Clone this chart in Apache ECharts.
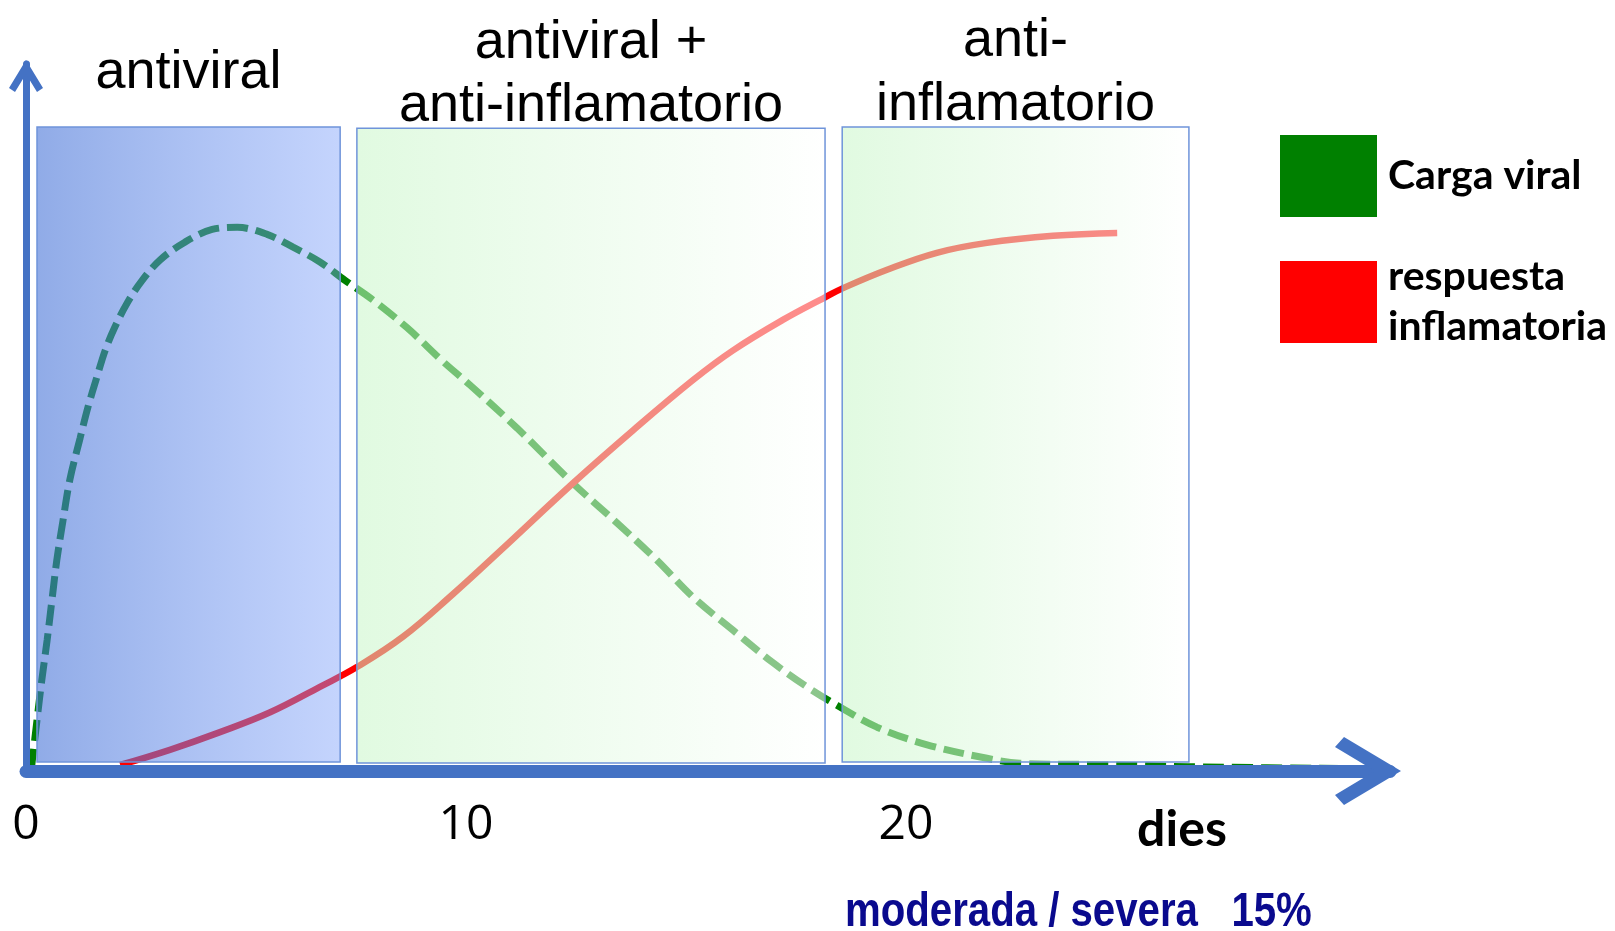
<!DOCTYPE html>
<html><head><meta charset="utf-8">
<script src="https://cdn.jsdelivr.net/npm/echarts@6/dist/echarts.min.js"></script>
<style>html,body{margin:0;padding:0;background:#fff}#c{width:1615px;height:931px}</style>
</head><body><div id="c"></div>
<script>
// ---- data (days on x, relative level 0-100 on y) ----
const seriesNames = ['Carga viral', 'respuesta inflamatoria'];
const greenX = [0.12,0.25,0.36,0.48,0.59,0.70,0.84,1.0,1.23,1.41,1.61,1.80,2.02,2.30,2.64,3.05,3.61,4.23,4.80,5.48,6.07,6.68,7.25,7.89,8.66,9.48,10.09,11.16,12.43,13.43,14.34,15.16,16.07,16.98,17.75,18.43,19.34,20.48,21.84,22.59,24.4,26.4,31];
const greenY = [0.2,7.2,12.9,18.5,24.2,29.8,35.4,41.3,47.1,51.5,55.7,59.5,62.8,66.2,69.4,72.3,74.8,76.6,76.9,75.9,74.1,72.0,69.4,66.6,62.7,57.9,54.6,48.5,40.7,35.1,29.8,24.6,19.9,15.3,11.9,9.3,6.2,3.7,1.8,1.1,0.9,0.6,0.3];
const redX = [2.14,3.27,4.41,5.55,6.68,7.52,8.57,9.70,10.77,12.43,13.80,15.16,16.07,17.20,18.16,18.57,19.57,20.70,21.84,23.34,24.80];
const redY = [0.85,3.0,5.5,8.3,11.9,14.7,19.0,25.0,31.1,40.7,48.2,55.3,59.5,63.8,67.0,68.3,70.9,73.3,74.7,75.7,76.1];
const phaseNames = ['antiviral', 'antiviral +\nanti-inflamatorio', 'anti-\ninflamatorio'];
const phaseStart = [0.25, 7.52, 18.55];
const phaseEnd = [7.14, 18.16, 26.43];
const phaseBottom = [1.27, 1.13, 1.27];
const phaseTop = [91.1, 90.9, 91.1];
const xTickLabels = [0, 10, 20];
const xAxisName = 'dies';
const footnote = 'moderada / severa   15%';

// ---- chart ----
const AXIS = '#4472c4';
const arrowX = 'path://M34 0 L68 57 L58 66 L34 26 L10 66 L0 57 Z';
const arrowY = 'path://M17 0 L34 28 L28 32 L17 14 L6 32 L0 28 Z';
const blueFill = {type:'linear',x:0,y:0,x2:1,y2:0,colorStops:[{offset:0,color:'rgba(70,115,215,0.6)'},{offset:1,color:'rgba(125,160,250,0.45)'}]};
const greenFill = {type:'linear',x:0,y:0,x2:1,y2:0,colorStops:[{offset:0,color:'rgba(200,246,200,0.55)'},{offset:1,color:'rgba(255,255,255,0.55)'}]};
const fills = [blueFill, greenFill, greenFill];

const areas = phaseNames.map((n, i) => [
  {name: n, xAxis: phaseStart[i], yAxis: phaseBottom[i], itemStyle: {color: fills[i], borderColor: '#6f94da', borderWidth: 1.5}},
  {xAxis: phaseEnd[i], yAxis: phaseTop[i]}
]);

const chart = echarts.init(document.getElementById('c'), null, {renderer: 'canvas'});
chart.setOption({
  animation: false,
  backgroundColor: '#fff',
  grid: {left: 26, right: 225, top: 64, bottom: 160, containLabel: false},
  legend: {
    data: seriesNames, orient: 'vertical', left: 1280, top: 135, padding: 0,
    icon: 'rect', itemWidth: 97, itemHeight: 82, itemGap: 35, selectedMode: false,
    itemStyle: {borderWidth: 0},
    formatter: n => (n === seriesNames[1] ? n.replace(' ', '\n') : n),
    textStyle: {fontFamily: 'Lato', fontWeight: 'bold', fontSize: 41, color: '#000', lineHeight: 50, padding: [0,0,0,6]}
  },
  xAxis: {
    type: 'value', min: 0, max: 31, interval: 10, z: 6,
    axisLine: {show: true, onZero: true, symbol: ['none', arrowX], symbolSize: [68, 66], symbolOffset: [0, -22], lineStyle: {color: AXIS, width: 13}},
    axisTick: {show: false}, splitLine: {show: false},
    axisLabel: {show: true, margin: 30, fontFamily: 'Open Sans', fontSize: 48, color: '#000', showMaxLabel: false,
      formatter: v => (xTickLabels.indexOf(v) >= 0 ? String(v) : '')}
  },
  yAxis: {
    type: 'value', min: 0, max: 100, z: 6,
    axisLine: {show: true, symbol: ['none', arrowY], symbolSize: [34, 32], symbolOffset: [0, -12], lineStyle: {color: AXIS, width: 7}},
    axisTick: {show: false}, splitLine: {show: false}, axisLabel: {show: false}
  },
  series: [
    {
      name: seriesNames[0], type: 'line', smooth: 0.35, showSymbol: false, symbol: 'none', z: 2,
      itemStyle: {color: '#008000'},
      lineStyle: {color: '#008000', width: 7, type: [21, 8]},
      data: greenX.map((x, i) => [x, greenY[i]])
    },
    {
      name: seriesNames[1], type: 'line', smooth: 0.4, showSymbol: false, symbol: 'none', z: 2,
      itemStyle: {color: '#ff0000'},
      lineStyle: {color: '#ff0000', width: 6.5},
      data: redX.map((x, i) => [x, redY[i]]),
      markArea: {
        z: 4, silent: true,
        label: {show: true, position: 'top', distance: 53, verticalAlign: 'middle', align: 'center',
          fontFamily: 'Liberation Sans, Arial, sans-serif', fontSize: 54, lineHeight: 63.5, color: '#000'},
        data: areas
      }
    }
  ],
  graphic: [{
    type: 'text', x: 1182, y: 830, z: 10,
    style: {text: xAxisName, fontFamily: 'Lato', fontWeight: 'bold', fontSize: 50, fill: '#000', align: 'center', verticalAlign: 'middle'}
  }, {
    type: 'text', x: 845, y: 912, scaleX: 0.82, z: 10,
    style: {text: footnote, fontFamily: 'Liberation Sans, Arial, sans-serif', fontWeight: 'bold', fontSize: 49,
      fill: '#0a0a8e', align: 'left', verticalAlign: 'middle'}
  }]
});
</script></body></html>
